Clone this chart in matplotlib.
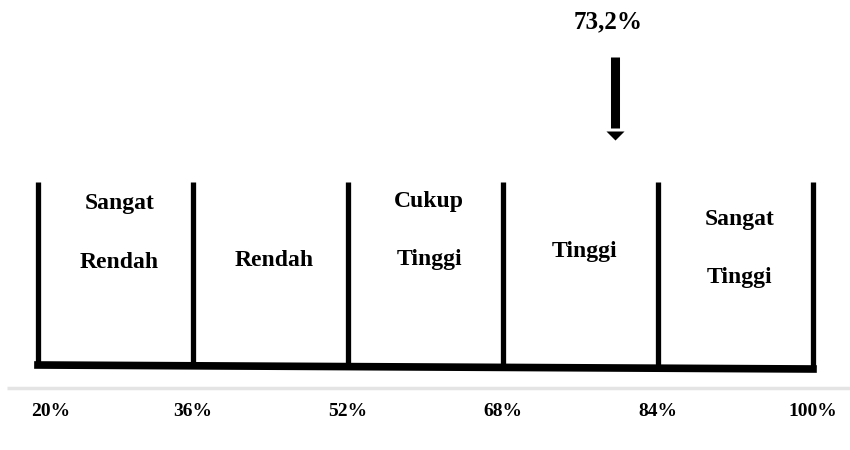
import matplotlib.pyplot as plt

# scale boundaries (percent) and category names
bounds = [20, 36, 52, 68, 84, 100]
bound_labels = ["20%", "36%", "52%", "68%", "84%", "100%"]
categories = [["Sangat", "Rendah"], ["Rendah"], ["Cukup", "Tinggi"], ["Tinggi"], ["Sangat", "Tinggi"]]

# result shown by the arrow
result_label = "73,2%"
result_drawn_at = 79.6  # where the arrow sits on the original drawing

serif = ["Liberation Serif", "DejaVu Serif"]

fig = plt.figure(figsize=(8.5, 4.5), dpi=100)
ax = fig.add_axes([0, 0, 1, 1])
# x in percent, y in a 0..450 "row" scale going downward
ax.set_xlim(16.08, 103.82)
ax.set_ylim(450, 0)
ax.axis("off")

# light grey rule under the scale
ax.plot([16.8, 103.82], [388, 388], color="#e4e4e4", lw=2.5, solid_capstyle="butt")

# thick base line
ax.plot([bounds[0], bounds[-1]], [365, 369], color="black", lw=5.5, solid_capstyle="projecting")

# dividers
for b in bounds:
    ax.plot([b, b], [182, 367], color="black", lw=3.8, solid_capstyle="butt")

# category labels centred in each bin
first_line_y = [203, 260, 201, 252, 219]
for i, lines in enumerate(categories):
    mid = (bounds[i] + bounds[i + 1]) / 2 + 0.4
    for k, word in enumerate(lines):
        ax.text(mid, first_line_y[i] + 59 * k, word, ha="center", va="center",
                fontsize=17, fontweight="bold", family=serif)

# percent labels under the scale
for b, lab in zip(bounds, bound_labels):
    xb = b + 1.3 if b == bounds[0] else b
    ax.text(xb, 412, lab, ha="center", va="center", fontsize=14,
            fontweight="bold", family=serif)

# arrow with value
ax.text(result_drawn_at - 0.7, 22, result_label, ha="center", va="center",
        fontsize=18, fontweight="bold", family=serif)
ax.plot([result_drawn_at, result_drawn_at], [57, 128], color="black", lw=6.5,
        solid_capstyle="butt")
ax.plot([result_drawn_at], [131], marker=[(-1, 0), (1, 0), (0, -1)],
        ms=13, color="black", mew=0)

fig.savefig("out.png", dpi=100)
